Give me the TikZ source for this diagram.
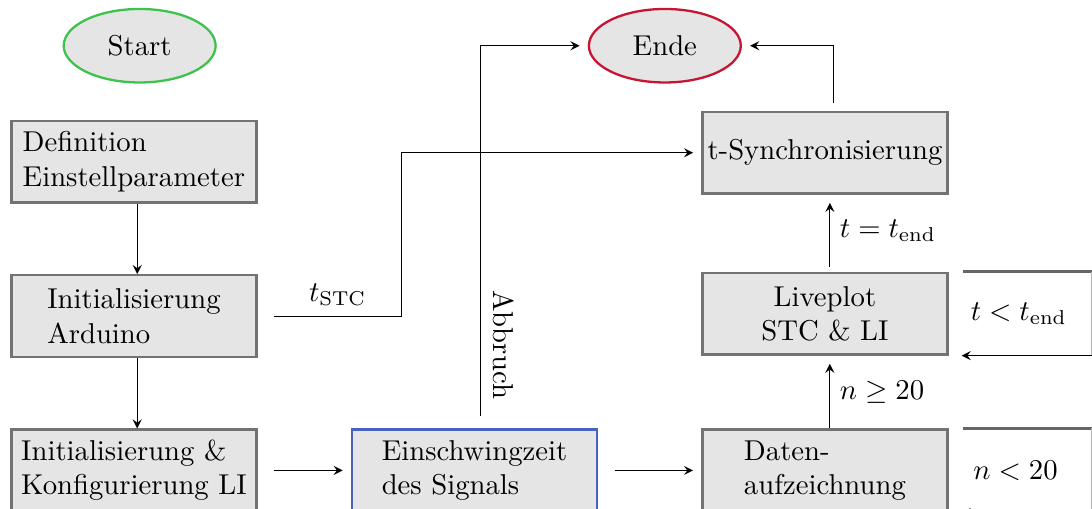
\documentclass[tikz,border=0pt]{standalone}
\usetikzlibrary{arrows}
\usetikzlibrary{shapes.geometric, math, positioning}
\definecolor{startgreen}{RGB}{60,195,75}
\definecolor{endred}{RGB}{200,20,50}
\definecolor{waitblue}{RGB}{70,100,190}

\tikzset{
  block/.style={draw=black!55, line width=0.8pt, fill=black!10,
    minimum width=3cm, minimum height=1cm, align=left},
  term/.style={ellipse, line width=0.8pt, fill=black!10,
    minimum width=1.86cm, minimum height=0.9cm},
  flow/.style={-stealth, shorten >=0.1cm},
}

\begin{document}
\begin{tikzpicture}
\tikzmath{
\W=13.37;
\H=6.22;
\xa=1.64;
\xb=5.81;
\xc=10.10;
\ya=-0.56;
\yd=-5.76;
\gap=0.2;
}
\useasboundingbox (0,0) rectangle (\W,-\H);
\coordinate (edge) at (\W,0);

%start/end
\node[term, draw=startgreen] (start) at (1.71,\ya) {Start};
\node[term, draw=endred] (ende) at (8.14,\ya) {Ende};

%left column
\node[block] (def) at (\xa,-1.98) {Definition\\Einstellparameter};
\node[block] (ard) at (\xa,-3.87) {Initialisierung\\Arduino};
\node[block] (initli) at (\xa,\yd) {Initialisierung \&\\Konfigurierung LI};

%measurement
\node[block, draw=waitblue] (ein) at (\xb,\yd) {Einschwingzeit\\des Signals};
\node[block] (daten) at (\xc,\yd) {Daten-\\aufzeichnung};
\node[block, align=center] (live) at (\xc,-3.84) {Liveplot\\STC \& LI};
\node[block, inner xsep=0pt] (sync) at (\xc,-1.87) {t-Synchronisierung};

\draw[-stealth] ([xshift=0.04cm]def.south) -- ([xshift=0.04cm]ard.north);
\draw[-stealth] ([xshift=0.04cm]ard.south) -- ([xshift=0.04cm]initli.north);
\draw[flow] ([xshift=\gap cm]ard.east) -- node[above]{$t_{\mathrm{STC}}$} ++(1.56,0) |- (sync.west);
\draw[flow] ([xshift=\gap cm]initli.east) -- (ein);
\draw[flow] ([xshift=\gap cm]ein.east) -- (daten);

%abort
\draw[flow] ([shift={(0.07,0.15)}]ein.north) |- (ende.west);
\node[rotate=-90] (abbr) at (6.16,-4.22) {Abbruch};

%right column
\draw[flow] ([xshift=0.06cm]daten.north) -- node[right]{$n \geq 20$} ([xshift=0.06cm]live.south);
\draw[flow] ([shift={(0.06,0.06)}]live.north) -- node[right]{$t = t_{\mathrm{end}}$} ([xshift=0.06cm]sync.south);
\draw[flow] ([shift={(0.1,0.1)}]sync.north) |- (ende.east);

%loops
\draw[black!60, line width=0.8pt] ([xshift=0.18cm]live.north east) -- (live.north east -| edge);
\draw[black!30] (live.north east -| edge) -- (live.south east -| edge);
\draw[flow] (live.south east -| edge) -- ([xshift=0.06cm]live.south east);
\node (tlt) at ([xshift=0.86cm]live.east) {$t < t_{\mathrm{end}}$};

\draw[black!60, line width=0.8pt] ([xshift=0.18cm]daten.north east) -- (daten.north east -| edge);
\draw[black!30] (daten.north east -| edge) -- (daten.south east -| edge);
\draw[flow] (daten.south east -| edge) -- ([xshift=0.06cm]daten.south east);
\node (nlt) at ([xshift=0.82cm]daten.east) {$n < 20$};
\end{tikzpicture}
\end{document}
